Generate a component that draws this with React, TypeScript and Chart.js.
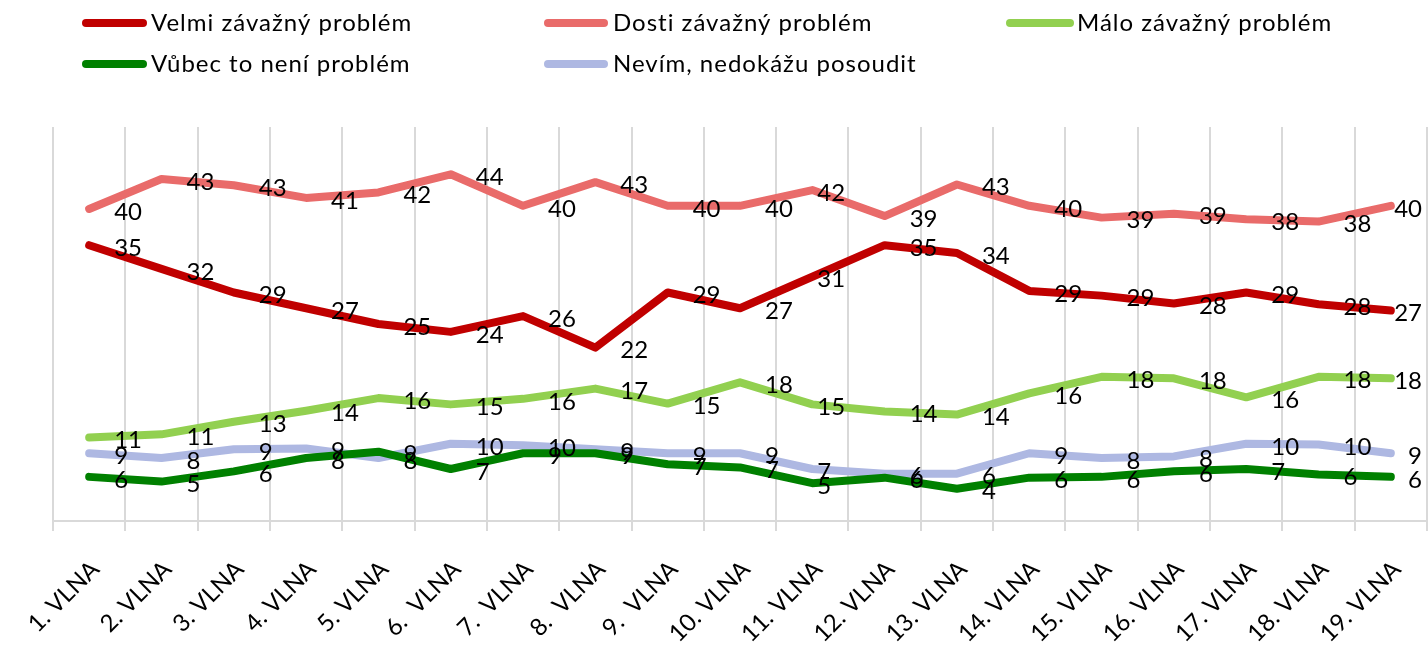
import React, { useEffect, useRef } from 'react';
import { Chart, registerables } from 'chart.js';

Chart.register(...registerables);

const FONT = 'Lato, "Noto Sans", "DejaVu Sans", sans-serif';

const categories = [
  '1. VLNA', '2. VLNA', '3. VLNA', '4. VLNA', '5. VLNA',
  '6.  VLNA', '7.  VLNA', '8.  VLNA', '9.  VLNA',
  '10. VLNA', '11. VLNA', '12. VLNA', '13. VLNA', '14. VLNA',
  '15. VLNA', '16. VLNA', '17. VLNA', '18. VLNA', '19. VLNA',
];

const seriesNames = [
  'Velmi závažný problém',
  'Dosti závažný problém',
  'Málo závažný problém',
  'Vůbec to není problém',
  'Nevím, nedokážu posoudit',
];

const velmiZavazny = [35, 32, 29, 27, 25, 24, 26, 22, 29, 27, 31, 35, 34, 29.2, 28.6, 27.6, 29, 27.5, 26.7];
const dostiZavazny = [39.6, 43.4, 42.6, 41, 41.7, 44, 40, 43, 40, 40, 42, 38.7, 42.7, 40, 38.5, 39, 38.3, 38, 40];
const maloZavazny = [10.6, 11, 12.6, 14, 15.6, 14.8, 15.5, 16.8, 14.9, 17.6, 14.8, 13.9, 13.5, 16.2, 18.3, 18.1, 15.7, 18.3, 18.1];
const vubecNeni = [5.6, 5, 6.3, 8, 8.8, 6.6, 8.6, 8.6, 7.2, 6.8, 4.8, 5.5, 4.1, 5.5, 5.6, 6.3, 6.6, 5.9, 5.6];
const nevim = [8.6, 8, 9.1, 9.2, 8, 9.8, 9.6, 9.1, 8.6, 8.6, 6.6, 6, 6, 8.6, 8, 8.2, 9.8, 9.7, 8.6];

const seriesValues = [velmiZavazny, dostiZavazny, maloZavazny, vubecNeni, nevim];
const seriesColors = ['#C00000', '#E96B6A', '#92D050', '#008000', '#AEB8E2'];
const seriesDrawOrder = [5, 4, 3, 1, 2];

// legend layout: [x of line start, x of line end, x of text, y]
const legendSlots = [
  [82, 147, 151, 23],
  [544, 608, 613, 23],
  [1006, 1074, 1077, 23],
  [82, 147, 151, 64],
  [544, 608, 613, 64],
];

const legendPlugin = {
  id: 'customLegend',
  afterDraw(chart: any) {
    const { ctx } = chart;
    ctx.save();
    seriesNames.forEach((name, i) => {
      const [x1, x2, tx, y] = legendSlots[i];
      ctx.strokeStyle = seriesColors[i];
      ctx.lineWidth = 8;
      ctx.lineCap = 'round';
      ctx.beginPath();
      ctx.moveTo(x1 + 4, y);
      ctx.lineTo(x2 - 4, y);
      ctx.stroke();
      ctx.fillStyle = '#000';
      ctx.font = `24px ${FONT}`;
      (ctx as any).letterSpacing = '1px';
      ctx.textAlign = 'left';
      ctx.textBaseline = 'middle';
      ctx.fillText(name, tx, y);
      (ctx as any).letterSpacing = '0px';
    });
    ctx.restore();
  },
};

const valueLabelPlugin = {
  id: 'valueLabels',
  afterDatasetsDraw(chart: any) {
    const { ctx, chartArea } = chart;
    ctx.save();
    ctx.font = `24px ${FONT}`;
    ctx.fillStyle = '#000';
    ctx.textBaseline = 'middle';
    chart.data.datasets.forEach((ds: any, di: number) => {
      const meta = chart.getDatasetMeta(di);
      meta.data.forEach((pt: any, i: number) => {
        const v = ds.data[i] as number;
        const txt = String(Math.round(v));
        let x = pt.x + 25;
        let align = 'left';
        if (i === meta.data.length - 1) {
          x = chartArea.right - 5;
          align = 'right';
        } else if (i === 10) {
          x = pt.x + 5;
        }
        ctx.textAlign = align;
        ctx.fillText(txt, x, pt.y + 3);
      });
    });
    ctx.restore();
  },
};

export default function App() {
  const canvasRef = useRef<HTMLCanvasElement | null>(null);

  useEffect(() => {
    document.body.style.margin = '0';
    const canvas = canvasRef.current;
    if (!canvas) return;
    Chart.defaults.font.family = FONT;
    const chart = new Chart(canvas, {
      type: 'line',
      data: {
        labels: categories,
        datasets: seriesNames.map((name, i) => ({
          label: name,
          data: seriesValues[i],
          borderColor: seriesColors[i],
          backgroundColor: seriesColors[i],
          borderWidth: 8,
          pointRadius: 0,
          tension: 0,
          fill: false,
          borderCapStyle: 'round',
          borderJoinStyle: 'round',
          order: seriesDrawOrder[i],
        })),
      },
      options: {
        responsive: false,
        animation: false,
        devicePixelRatio: 1,
        layout: { padding: { top: 127, left: 53, right: 1, bottom: 0 } },
        plugins: {
          legend: { display: false },
          tooltip: { enabled: false },
          title: { display: false },
        },
        scales: {
          x: {
            offset: true,
            grid: {
              offset: true,
              color: '#D9D9D9',
              lineWidth: 2,
              tickLength: 10,
              drawTicks: true,
            },
            border: { display: true, color: '#D9D9D9', width: 2 },
            ticks: {
              color: '#000',
              font: { family: FONT, size: 24 },
              minRotation: 45,
              maxRotation: 45,
              autoSkip: false,
              padding: 24,
              labelOffset: 6,
            },
            afterFit: (scale: any) => {
              scale.height = 129;
              scale.paddingLeft = 0;
              scale.paddingRight = 0;
            },
          },
          y: {
            display: false,
            min: 0,
            max: 50,
          },
        },
      },
      plugins: [valueLabelPlugin, legendPlugin],
    } as any);
    return () => chart.destroy();
  }, []);

  return (
    <div style={{ width: 1428, height: 650 }}>
      <canvas ref={canvasRef} width={1428} height={650} style={{ display: 'block' }} />
    </div>
  );
}
